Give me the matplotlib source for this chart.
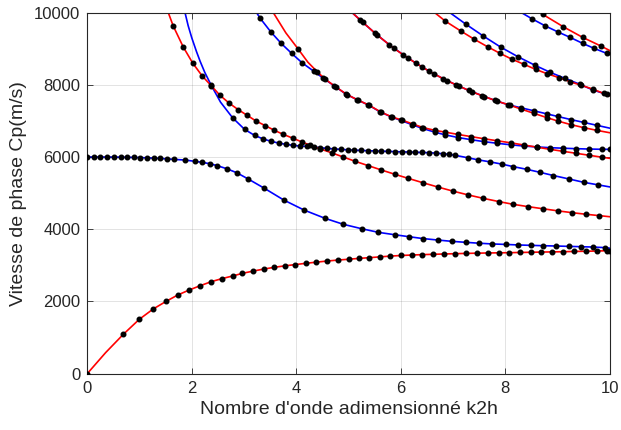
import matplotlib
matplotlib.use("Agg")
import matplotlib.pyplot as plt

plt.rcParams['font.family'] = ['Liberation Sans', 'DejaVu Sans']

# ---- data (k2h, Cp in m/s) ----
# red curves
r0_x = [0.0, 0.35, 0.69, 0.995, 1.26, 1.51, 1.73, 1.95, 2.16, 2.37, 2.57, 2.78, 2.97, 3.18, 3.38, 3.58,
        3.78, 3.98, 4.18, 4.38, 4.58, 4.79, 5.0, 5.20, 5.40, 5.60, 5.79, 6.00, 6.21, 6.41, 6.62, 6.83,
        7.04, 7.25, 7.45, 7.66, 7.87, 8.07, 8.28, 8.49, 8.69, 8.90, 9.11, 9.31, 9.54, 9.75, 9.95, 10.0]
r0_y = [0, 580, 1089, 1504, 1789, 2003, 2177, 2316, 2435, 2546, 2629, 2704, 2778, 2842, 2897, 2945,
        2985, 3020, 3055, 3087, 3117, 3145, 3168, 3192, 3212, 3234, 3254, 3272, 3285, 3296, 3305, 3314,
        3322, 3330, 3336, 3342, 3346, 3350, 3356, 3361, 3367, 3372, 3377, 3384, 3390, 3396, 3404, 3408]
r0_skip = [1]

r1_x = [1.55, 1.645, 1.837, 2.017, 2.20, 2.37, 2.54, 2.72, 2.89, 3.06, 3.23, 3.41, 3.58, 3.75, 3.94,
        4.11, 4.26, 4.45, 4.69, 4.90, 5.12, 5.38, 5.62, 5.88, 6.14, 6.43, 6.72, 7.00, 7.29, 7.58, 7.88,
        8.15, 8.44, 8.73, 9.00, 9.27, 9.54, 9.79, 10.0]
r1_y = [10000, 9629, 9047, 8604, 8244, 7980, 7709, 7487, 7311, 7155, 6997, 6867, 6740, 6629, 6518,
        6416, 6332, 6230, 6110, 6000, 5885, 5760, 5645, 5525, 5410, 5285, 5165, 5055, 4950, 4855, 4765,
        4690, 4625, 4565, 4510, 4460, 4415, 4378, 4346]
r1_skip = [0, 38]

r2_x = [3.56, 3.80, 4.04, 4.22, 4.40, 4.55, 4.75, 4.97, 5.18, 5.40, 5.62, 5.83, 6.03, 6.23, 6.43, 6.65,
        6.85, 7.10, 7.35, 7.60, 7.85, 8.10, 8.35, 8.60, 8.85, 9.10, 9.35, 9.60, 9.85, 10.0]
r2_y = [10000, 9440, 8984, 8630, 8363, 8160, 7950, 7730, 7580, 7430, 7245, 7110, 7020, 6915, 6815, 6740,
        6690, 6625, 6565, 6505, 6450, 6395, 6335, 6275, 6215, 6160, 6105, 6050, 5995, 5964]
r2_skip = [0, 1, 3, 29]

r3_x = [5.07, 5.27, 5.54, 5.86, 6.14, 6.40, 6.64, 6.88, 7.12, 7.36, 7.60, 7.85, 8.09, 8.30, 8.55, 8.80,
        9.00, 9.25, 9.50, 9.75, 10.0]
r3_y = [10000, 9735, 9390, 9020, 8740, 8500, 8300, 8120, 7960, 7810, 7675, 7545, 7435, 7330, 7210, 7090,
        7000, 6900, 6815, 6740, 6673]
r3_skip = [0, 20]

r4_x = [6.65, 6.85, 7.15, 7.41, 7.66, 7.90, 8.12, 8.36, 8.58, 8.80, 9.03, 9.24, 9.44, 9.67, 9.88, 10.0]
r4_y = [10000, 9768, 9490, 9260, 9056, 8873, 8715, 8568, 8429, 8309, 8198, 8087, 7994, 7884, 7764, 7698]
r4_skip = [0, 15]

r5_x = [8.66, 8.72, 9.11, 9.48, 9.83, 10.0]
r5_y = [10000, 9950, 9610, 9316, 9075, 8950]
r5_skip = [0, 5]

# blue curves
b0_x = [0.0, 0.13, 0.25, 0.38, 0.51, 0.64, 0.76, 0.89, 1.01, 1.14, 1.27, 1.40, 1.52, 1.65, 1.87, 2.06,
        2.20, 2.35, 2.49, 2.67, 2.86, 3.08, 3.39, 3.76, 4.15, 4.55, 4.90, 5.25, 5.57, 5.88, 6.16, 6.43,
        6.71, 6.97, 7.24, 7.50, 7.75, 8.02, 8.25, 8.49, 8.73, 8.97, 9.21, 9.44, 9.68, 9.91, 10.0]
b0_y = [6000, 6000, 6000, 5999, 5998, 5996, 5993, 5989, 5984, 5978, 5970, 5961, 5950, 5936, 5917, 5881,
        5853, 5814, 5759, 5676, 5565, 5391, 5133, 4809, 4530, 4302, 4136, 4014, 3914, 3848, 3792, 3740,
        3700, 3665, 3637, 3612, 3592, 3578, 3564, 3553, 3543, 3535, 3525, 3516, 3506, 3490, 3474]
b0_skip = [46]

b1_x = [1.87, 1.93, 2.00, 2.09, 2.16, 2.25, 2.37, 2.55, 2.78, 3.01, 3.20, 3.37, 3.52, 3.66, 3.80, 3.94,
        4.07, 4.20, 4.33, 4.46, 4.59, 4.72, 4.85, 4.98, 5.11, 5.24, 5.37, 5.50, 5.63, 5.76, 5.89, 6.02,
        6.15, 6.28, 6.41, 6.54, 6.67, 6.80, 6.93, 7.04, 7.29, 7.48, 7.70, 7.93, 8.15, 8.41, 8.66, 8.92,
        9.21, 9.50, 9.78, 10.0]
b1_y = [10000, 9640, 9300, 8920, 8650, 8340, 7992, 7520, 7089, 6767, 6601, 6499, 6435, 6388, 6352, 6324,
        6305, 6296, 6278, 6258, 6240, 6225, 6212, 6200, 6190, 6182, 6175, 6168, 6162, 6156, 6150, 6144,
        6138, 6132, 6126, 6120, 6108, 6092, 6072, 6048, 5978, 5922, 5868, 5805, 5735, 5660, 5578, 5488,
        5395, 5300, 5228, 5172]
b1_skip = [0, 1, 2, 3, 4, 5, 7, 51]

b2_x = [3.24, 3.31, 3.51, 3.71, 3.91, 4.11, 4.33, 4.52, 4.73, 4.95, 5.16, 5.38, 5.60, 5.81, 6.00, 6.21,
        6.40, 6.65, 6.85, 7.10, 7.35, 7.60, 7.85, 8.10, 8.35, 8.60, 8.85, 9.10, 9.35, 9.60, 9.85, 10.0]
b2_y = [10000, 9842, 9471, 9150, 8873, 8612, 8382, 8180, 7967, 7745, 7590, 7441, 7255, 7117, 7015, 6900,
        6800, 6690, 6615, 6540, 6480, 6425, 6380, 6340, 6305, 6280, 6260, 6245, 6232, 6222, 6215, 6213]
b2_skip = [0]

b3_x = [5.07, 5.22, 5.50, 5.78, 6.04, 6.29, 6.53, 6.81, 7.05, 7.30, 7.55, 7.80, 8.05, 8.30, 8.55, 8.80,
        9.00, 9.25, 9.50, 9.75, 10.0]
b3_y = [10000, 9800, 9440, 9110, 8840, 8600, 8390, 8170, 8005, 7845, 7705, 7570, 7450, 7365, 7280, 7195,
        7125, 7040, 6960, 6880, 6800]
b3_skip = [0, 20]

b4_x = [6.94, 7.25, 7.58, 7.91, 8.24, 8.56, 8.86, 9.14, 9.43, 9.68, 9.94, 10.0]
b4_y = [10000, 9676, 9352, 9047, 8781, 8548, 8346, 8180, 8014, 7856, 7737, 7712]
b4_skip = [0, 11]

b5_x = [8.31, 8.52, 8.76, 9.00, 9.24, 9.48, 9.70, 9.94, 10.0]
b5_y = [10000, 9823, 9637, 9471, 9316, 9150, 9011, 8873, 8840]
b5_skip = [0, 8]

x_ticks = [0, 2, 4, 6, 8, 10]
y_ticks = [0, 2000, 4000, 6000, 8000, 10000]
x_label = "Nombre d'onde adimensionné k2h"
y_label = "Vitesse de phase Cp(m/s)"

red_curves = [(r0_x, r0_y, r0_skip), (r1_x, r1_y, r1_skip), (r2_x, r2_y, r2_skip),
              (r3_x, r3_y, r3_skip), (r4_x, r4_y, r4_skip), (r5_x, r5_y, r5_skip)]
blue_curves = [(b0_x, b0_y, b0_skip), (b1_x, b1_y, b1_skip), (b2_x, b2_y, b2_skip),
               (b3_x, b3_y, b3_skip), (b4_x, b4_y, b4_skip), (b5_x, b5_y, b5_skip)]

fig = plt.figure(figsize=(6.21, 4.30), dpi=100)
ax = fig.add_axes([0.1406, 0.1312, 0.8414, 0.8393])

for curves, col in ((blue_curves, (0, 0, 1)), (red_curves, (1, 0, 0))):
    for xs, ys, skip in curves:
        ax.plot(xs, ys, color=col, lw=1.2, zorder=2, clip_on=True)

for curves in (blue_curves, red_curves):
    for xs, ys, skip in curves:
        idx = [i for i in range(len(xs)) if i not in skip]
        ax.plot([xs[i] for i in idx], [ys[i] for i in idx], linestyle='none', marker='o',
                ms=3.3, color='k', zorder=3, clip_on=True)

ax.set_xlim(0, 10)
ax.set_ylim(0, 10000)
ax.set_xticks(x_ticks)
ax.set_yticks(y_ticks)
ax.grid(True, color=(0.15, 0.15, 0.15), alpha=0.15, lw=0.6)
ax.set_axisbelow(True)
dark = (0.15, 0.15, 0.15)
for sp in ax.spines.values():
    sp.set_color(dark)
    sp.set_linewidth(0.8)
ax.tick_params(direction='in', length=4, width=0.6, colors=dark, labelsize=12,
               top=True, right=True, labelcolor=dark, pad=5)
ax.set_xlabel(x_label, fontsize=14, color=dark, labelpad=4)
ax.set_ylabel(y_label, fontsize=14, color=dark, labelpad=5)

fig.savefig("out.png", dpi=100)
